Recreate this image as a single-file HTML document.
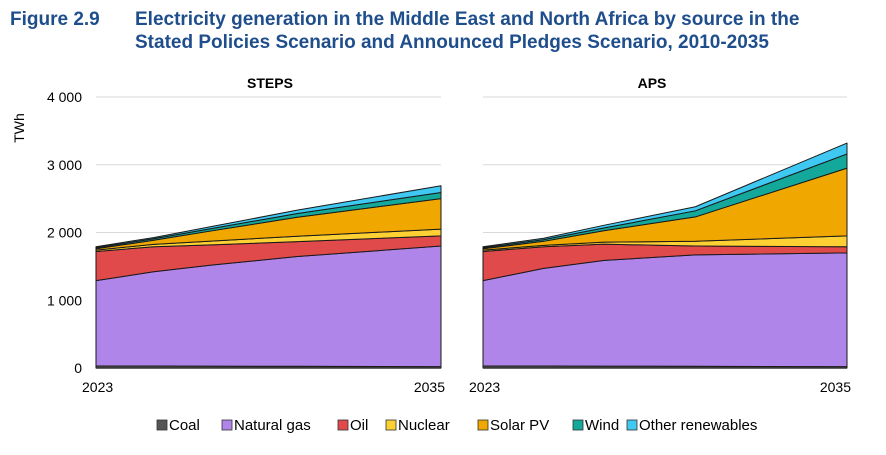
<!DOCTYPE html>
<html><head><meta charset="utf-8"><style>
body{margin:0;background:#fff;font-family:"Liberation Sans",Arial,sans-serif;}
#wrap{position:relative;width:886px;height:455px;overflow:hidden;}
.t{position:absolute;color:#1f4e8c;font-weight:bold;font-size:19px;line-height:23px;}
</style></head><body>
<div id="wrap">
<div class="t" style="left:10px;top:8px">Figure 2.9</div>
<div class="t" style="left:135px;top:8px;width:715px">Electricity generation in the Middle East and North Africa by source in the Stated Policies Scenario and Announced Pledges Scenario, 2010-2035</div>
<svg id="svg" width="886" height="455" style="position:absolute;left:0;top:0"></svg>
</div>
<script>
const years=[2023,2025,2027,2030,2035];
const sources=["Coal","Natural gas","Oil","Nuclear","Solar PV","Wind","Other renewables"];
const colors=["#555555","#b085ea","#e04a4a","#fdd033","#f0a800","#13a89a","#3fc8f2"];
const yTicks=[0,1000,2000,3000,4000];
const yTickLabels=["0","1 000","2 000","3 000","4 000"];
const stepsCoal=[30,30,28,25,20];
const stepsGas=[1260,1390,1490,1620,1780];
const stepsOil=[430,370,300,220,150];
const stepsNuclear=[20,35,55,80,100];
const stepsSolar=[20,60,150,280,450];
const stepsWind=[15,22,35,55,90];
const stepsOther=[15,18,28,50,100];
const apsCoal=[30,30,28,25,20];
const apsGas=[1260,1440,1560,1645,1680];
const apsOil=[430,320,240,130,90];
const apsNuclear=[20,20,30,70,160];
const apsSolar=[20,60,170,360,1000];
const apsWind=[15,25,40,90,210];
const apsOther=[15,20,40,60,160];

const NS="http://www.w3.org/2000/svg";
const svg=document.getElementById('svg');
function mk(tag,attrs,parent){const e=document.createElementNS(NS,tag);for(const k in attrs)e.setAttribute(k,attrs[k]);(parent||svg).appendChild(e);return e;}
const y0=368,yTop=97;
function yS(v){return y0-(v/4000)*(y0-yTop);}
function panel(name,x0,x1,series,titleX){
  const xS=yr=>x0+(yr-years[0])/(years[years.length-1]-years[0])*(x1-x0);
  const g=mk('g',{});
  
  
  yTicks.forEach(v=>{if(v>0){const l=mk('line',{x1:x0,x2:x1,y1:yS(v),y2:yS(v),stroke:'#d9d9d9','stroke-width':1},g);
    }});
  let base=years.map(()=>0);
  series.forEach((s,i)=>{
    const top=base.map((b,j)=>b+s[j]);
    let d='M'+years.map((yr,j)=>xS(yr)+','+yS(top[j])).join(' L');
    for(let j=years.length-1;j>=0;j--)d+=' L'+xS(years[j])+','+yS(base[j]);
    d+='Z';
    const p=mk('path',{d:d,fill:colors[i],stroke:'#1a1a1a','stroke-width':1,'stroke-linejoin':'round'},g);
    
    
    base=top;
  });
  const ax=mk('line',{x1:x0,x2:x1,y1:y0,y2:y0,stroke:'#333','stroke-width':1.5},g);
  
  const t=mk('text',{x:titleX,y:88,'font-size':14,'font-weight':'bold','text-anchor':'middle',fill:'#000'},g);
  t.textContent=name.toUpperCase();
  
  [[years[0],'start',x0-14],[years[years.length-1],'end',x1+4]].forEach(([yr,anc,x])=>{
    const tl=mk('text',{x:x,y:392,'font-size':14,'text-anchor':anc,fill:'#000'},g);
    tl.textContent=yr;
    
  });
}
panel('steps',96,441,[stepsCoal,stepsGas,stepsOil,stepsNuclear,stepsSolar,stepsWind,stepsOther],270);
panel('aps',483,847,[apsCoal,apsGas,apsOil,apsNuclear,apsSolar,apsWind,apsOther],652);
yTicks.forEach((v,i)=>{const t=mk('text',{x:82,y:yS(v)+5,'font-size':14,'text-anchor':'end',fill:'#000'});
  t.textContent=yTickLabels[i];});
const yt=mk('text',{x:0,y:0,'font-size':14,'text-anchor':'middle',transform:'translate(24,128) rotate(-90)',fill:'#000'});
yt.textContent='TWh';
const legX=[157,222,338,386,478,573,627];
sources.forEach((s,i)=>{
  const r=mk('rect',{x:legX[i],y:420,width:10,height:10,fill:colors[i],stroke:'#333','stroke-width':0.8});
  
  const t=mk('text',{x:legX[i]+12,y:430,'font-size':15,fill:'#000'});
  t.textContent=s;
});
</script>
</body></html>
